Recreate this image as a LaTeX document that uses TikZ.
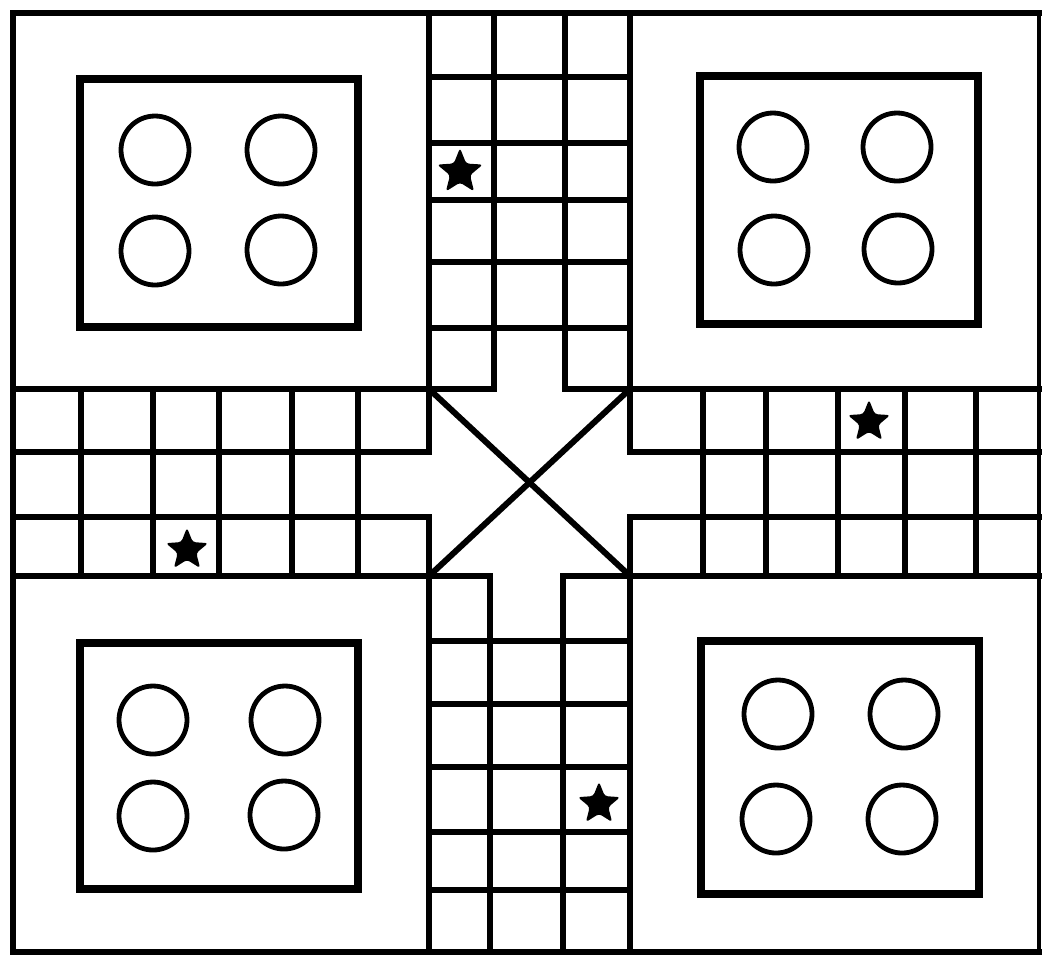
\documentclass[tikz,border=0pt]{standalone}
\begin{document}
\begin{tikzpicture}[x=0.5pt,y=-0.5pt,
  gridline/.style={line width=3pt,line cap=rect},
  diagline/.style={line width=3pt,line cap=round},
  homebox/.style={line width=3.6pt,line join=miter},
  token/.style={line width=2.4pt},
  ludostar/.pic={\fill[black,rounded corners=1.5pt] (-90:24)
     \foreach \a in {1,...,9}{ -- ({-90+36*\a}:{mod(\a,2)==0 ? 24 : 10.5}) } -- cycle;}]
\useasboundingbox (0,0) rectangle (1042,955);
\fill[white] (0,0) rectangle (1042,955);
% outer border
\draw[gridline] (13,13) -- (1039,13);
\draw[gridline] (13,952) -- (1039,952);
\draw[gridline] (13,13) -- (13,952);
\draw[line width=2pt,line cap=rect] (1039,13) -- (1039,952);
% arm boundaries
\draw[gridline] (13,389) -- (494,389);
\draw[gridline] (565,389) -- (1039,389);
\draw[gridline] (13,452) -- (429,452);
\draw[gridline] (630,452) -- (1039,452);
\draw[gridline] (13,517) -- (429,517);
\draw[gridline] (630,517) -- (1039,517);
\draw[gridline] (13,576) -- (490,576);
\draw[gridline] (563,576) -- (1039,576);
\draw[gridline] (429,13) -- (429,452);
\draw[gridline] (429,517) -- (429,952);
\draw[gridline] (630,13) -- (630,452);
\draw[gridline] (630,517) -- (630,952);
% top column
\foreach \y in {77,143,200,262,328} \draw[gridline] (429,\y) -- (630,\y);
\draw[gridline] (494,13) -- (494,389);
\draw[gridline] (565,13) -- (565,389);
% bottom column
\foreach \y in {641,704,767,832,890} \draw[gridline] (429,\y) -- (630,\y);
\draw[gridline] (490,576) -- (490,952);
\draw[gridline] (563,576) -- (563,952);
% left arm
\foreach \x in {81,153,219,292,358} \draw[gridline] (\x,389) -- (\x,576);
% right arm
\foreach \x in {703,766,838,905,976} \draw[gridline] (\x,389) -- (\x,576);
% centre cross
\draw[diagline] (429,389) -- (630,576);
\draw[diagline] (630,389) -- (429,576);
% home boxes
\draw[homebox] (80,79) rectangle (358,327);
\draw[homebox] (700,76) rectangle (978,324);
\draw[homebox] (80,643) rectangle (358,889);
\draw[homebox] (701,641) rectangle (979,894);
% tokens
\foreach \p in {(155,150),(281,150),(155,251),(281,250),
                (773,147),(897,147),(774,250),(898,249),
                (153,720),(285,720),(153,816),(284,815),
                (778,714),(904,714),(776,819),(902,819)}
  \draw[token] \p circle (34);
% stars
\pic at (460,172) {ludostar};
\pic[scale=0.93] at (187,550) {ludostar};
\pic[scale=0.93] at (869,422) {ludostar};
\pic[scale=0.93] at (599,804) {ludostar};
\end{tikzpicture}
\end{document}
